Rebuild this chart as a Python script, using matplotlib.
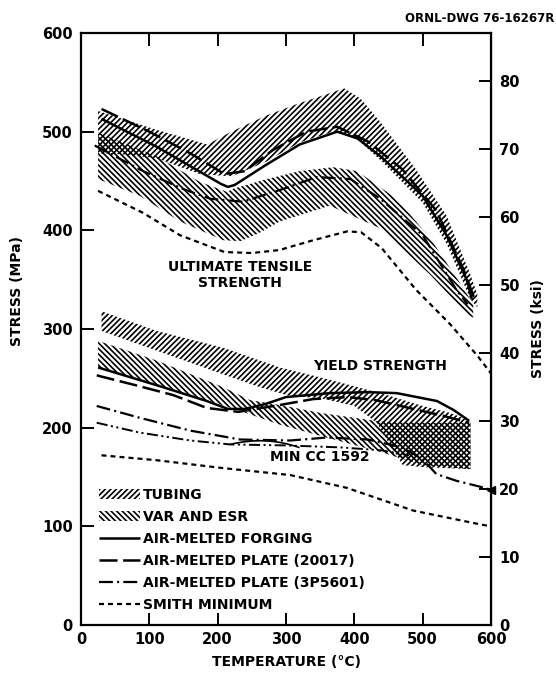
import matplotlib
matplotlib.use("Agg")
import matplotlib.pyplot as plt
from matplotlib.patches import Patch
from matplotlib.lines import Line2D
import numpy as np

plt.rcParams['font.family'] = ['DejaVu Sans']
plt.rcParams['font.weight'] = 'bold'
plt.rcParams['lines.scale_dashes'] = False
plt.rcParams['hatch.linewidth'] = 1.2

# ---------------- Ultimate tensile strength (MPa) ----------------
uts_tub_T_top = [25, 110, 185, 220, 270, 320, 360, 385, 410, 440, 490, 535, 570, 580]
uts_tub_S_top = [521, 502, 487, 500, 516, 529, 538, 544, 533, 508, 462, 415, 355, 335]
uts_tub_T_bot = [25, 60, 111, 174, 214, 222, 272, 320, 369, 400, 440, 500, 536, 570, 580]
uts_tub_S_bot = [478, 477, 473, 457, 455, 455, 470, 489, 500, 495, 470, 428, 385, 330, 322]

uts_var_T_top = [25, 111, 174, 214, 222, 272, 320, 369, 404, 462, 511, 559, 574]
uts_var_S_top = [499, 475, 449, 439, 442, 452, 460, 464, 460, 432, 392, 342, 325]
uts_var_T_bot = [25, 86, 145, 208, 233, 260, 291, 364, 438, 511, 565, 580]
uts_var_S_bot = [452, 435, 409, 390, 389, 397, 409, 425, 402, 355, 315, 309]

uts_forg_T = [30, 110, 175, 205, 215, 225, 270, 320, 375, 405, 440, 500, 535, 565, 572]
uts_forg_S = [513, 485, 459, 447, 444, 446, 466, 487, 500, 493, 474, 435, 395, 349, 330]

uts_p20017_T = [30, 100, 160, 210, 240, 280, 330, 375, 420, 470, 520, 560, 575]
uts_p20017_S = [523, 500, 478, 457, 460, 481, 500, 505, 490, 462, 420, 360, 332]

uts_p3p_T = [20, 91, 149, 189, 237, 296, 345, 394, 438, 500, 550, 566]
uts_p3p_S = [486, 460, 442, 432, 429, 442, 454, 452, 432, 395, 339, 325]

uts_smith_T = [25, 90, 145, 210, 250, 290, 340, 390, 410, 440, 490, 540, 580, 600]
uts_smith_S = [440, 418, 395, 378, 377, 380, 390, 399, 398, 382, 340, 305, 273, 255]

# ---------------- Yield strength (MPa) ----------------
ys_tub_T_top = [30, 111, 208, 262, 291, 350, 389, 448, 500, 540, 570]
ys_tub_S_top = [318, 298, 281, 268, 261, 251, 244, 233, 222, 215, 207]
ys_tub_T_bot = [30, 111, 208, 262, 306, 350, 400, 433, 450, 471, 500, 570]
ys_tub_S_bot = [298, 278, 254, 241, 232, 230, 222, 205, 185, 162, 160, 158]

ys_var_T_top = [25, 111, 208, 247, 291, 350, 400, 440, 500, 570]
ys_var_S_top = [288, 268, 241, 228, 223, 215, 210, 206, 205, 205]
ys_var_T_bot = [25, 100, 160, 233, 291, 370, 440, 500, 570]
ys_var_S_bot = [261, 245, 233, 217, 203, 188, 175, 162, 158]

ys_forg_T = [25, 111, 184, 215, 240, 270, 300, 364, 420, 462, 521, 545, 568]
ys_forg_S = [261, 243, 227, 219, 219, 224, 231, 235, 236, 235, 227, 218, 207]

ys_p20017_T = [23, 80, 135, 184, 230, 291, 340, 390, 430, 480, 530, 568]
ys_p20017_S = [253, 243, 233, 220, 216, 223, 229, 231, 228, 220, 212, 205]

ys_p3p_T = [23, 86, 160, 233, 306, 360, 420, 470, 500, 520, 550, 585, 600]
ys_p3p_S = [222, 210, 197, 188, 187, 190, 188, 180, 168, 153, 146, 140, 137]

ys_cc_T = [23, 86, 160, 218, 300, 380, 440, 480]
ys_cc_S = [205, 195, 187, 183, 182, 180, 177, 172]

ys_smith_T = [30, 111, 208, 306, 389, 486, 584, 600]
ys_smith_S = [172, 167, 159, 152, 139, 116, 102, 100]

x_ticks = [0, 100, 200, 300, 400, 500, 600]
y_ticks = [0, 100, 200, 300, 400, 500, 600]
ksi_ticks = [0, 10, 20, 30, 40, 50, 60, 70, 80]
MPA_PER_KSI = 6.895


def band(ax, Tt, St, Tb, Sb, hatch):
    grid = np.linspace(max(Tt[0], Tb[0]), min(Tt[-1], Tb[-1]), 300)
    top = np.interp(grid, Tt, St)
    bot = np.interp(grid, Tb, Sb)
    ax.fill_between(grid, bot, top, facecolor='none', edgecolor='black',
                    hatch=hatch, linewidth=0)


fig = plt.figure(figsize=(5.56, 6.79), dpi=100)
ax = fig.add_axes([81/556, 1-625/679, 410/556, 592/679])

tub_hatch = '//////'
var_hatch = '\\\\\\\\\\\\'

band(ax, uts_tub_T_top, uts_tub_S_top, uts_tub_T_bot, uts_tub_S_bot, tub_hatch)
band(ax, uts_var_T_top, uts_var_S_top, uts_var_T_bot, uts_var_S_bot, var_hatch)
band(ax, ys_tub_T_top, ys_tub_S_top, ys_tub_T_bot, ys_tub_S_bot, tub_hatch)
band(ax, ys_var_T_top, ys_var_S_top, ys_var_T_bot, ys_var_S_bot, var_hatch)

solid = dict(color='black', lw=1.8, solid_capstyle='butt')
long_dash = dict(color='black', lw=1.8, linestyle=(0, (13, 4)))
dash_dot = dict(color='black', lw=1.6, linestyle=(0, (10, 3, 1.5, 3)))
dash_dot_dot = dict(color='black', lw=1.4, linestyle=(0, (8, 2.5, 1.5, 2.5, 1.5, 2.5)))
short_dash = dict(color='black', lw=1.6, linestyle=(0, (3.6, 2.9)))

ax.plot(uts_forg_T, uts_forg_S, **solid)
ax.plot(uts_p20017_T, uts_p20017_S, **long_dash)
ax.plot(uts_p3p_T, uts_p3p_S, **dash_dot)
ax.plot(uts_smith_T, uts_smith_S, **short_dash)

ax.plot(ys_forg_T, ys_forg_S, **solid)
ax.plot(ys_p20017_T, ys_p20017_S, **long_dash)
ax.plot(ys_p3p_T, ys_p3p_S, **dash_dot)
ax.plot(ys_p3p_T[-1], ys_p3p_S[-1], marker='<', color='black', ms=6, clip_on=False)
ax.plot(ys_cc_T, ys_cc_S, **dash_dot_dot)
ax.plot(ys_smith_T, ys_smith_S, **short_dash)

ax.set_xlim(0, 600)
ax.set_ylim(0, 600)
ax.set_xticks(x_ticks)
ax.set_yticks(y_ticks)
ax.tick_params(direction='in', length=9, width=1.4, top=True, labelsize=10.5, pad=6)
ax.tick_params(axis='x', pad=5)
for s in ax.spines.values():
    s.set_linewidth(1.6)

sec = ax.secondary_yaxis('right', functions=(lambda m: m / MPA_PER_KSI, lambda k: k * MPA_PER_KSI))
sec.set_yticks(ksi_ticks)
sec.tick_params(direction='in', length=9, width=1.4, labelsize=10.5, pad=6)
sec.set_ylabel('STRESS (ksi)', fontsize=10, fontweight='bold', labelpad=8)

ax.set_xlabel('TEMPERATURE (°C)', fontsize=10, fontweight='bold', labelpad=6)
ax.set_ylabel('STRESS (MPa)', fontsize=10, fontweight='bold')
ax.yaxis.set_label_coords(-0.138, 0.565)

ax.text(233, 355, 'ULTIMATE TENSILE\nSTRENGTH', ha='center', va='center',
        fontsize=10, fontweight='bold', linespacing=1.15)
ax.text(438, 263, 'YIELD STRENGTH', ha='center', va='center', fontsize=10, fontweight='bold')
ax.annotate('MIN CC 1592', xy=(ys_cc_T[3], ys_cc_S[3]), xytext=(277, 170),
            ha='left', va='center', fontsize=10, fontweight='bold',
            arrowprops=dict(arrowstyle='-', color='black', lw=1.2,
                            connectionstyle='arc3,rad=0.2', shrinkA=0, shrinkB=0))

fig.text(0.997, 0.973, 'ORNL-DWG 76-16267R', ha='right', va='center', fontsize=8.5, fontweight='bold')

handles = [
    Patch(facecolor='none', edgecolor='black', hatch=tub_hatch, linewidth=0),
    Patch(facecolor='none', edgecolor='black', hatch=var_hatch, linewidth=0),
    Line2D([], [], **solid),
    Line2D([], [], **long_dash),
    Line2D([], [], **dash_dot),
    Line2D([], [], **short_dash),
]
labels = ['TUBING', 'VAR AND ESR', 'AIR-MELTED FORGING', 'AIR-MELTED PLATE (20017)',
          'AIR-MELTED PLATE (3P5601)', 'SMITH MINIMUM']
ax.legend(handles, labels, loc='upper left', bbox_to_anchor=(0.045, 0.232), frameon=False,
          handlelength=2.9, handletextpad=0.2, labelspacing=0.58,
          borderpad=0, borderaxespad=0, prop={'weight': 'bold', 'size': 10})

fig.savefig('out.png', dpi=100)
